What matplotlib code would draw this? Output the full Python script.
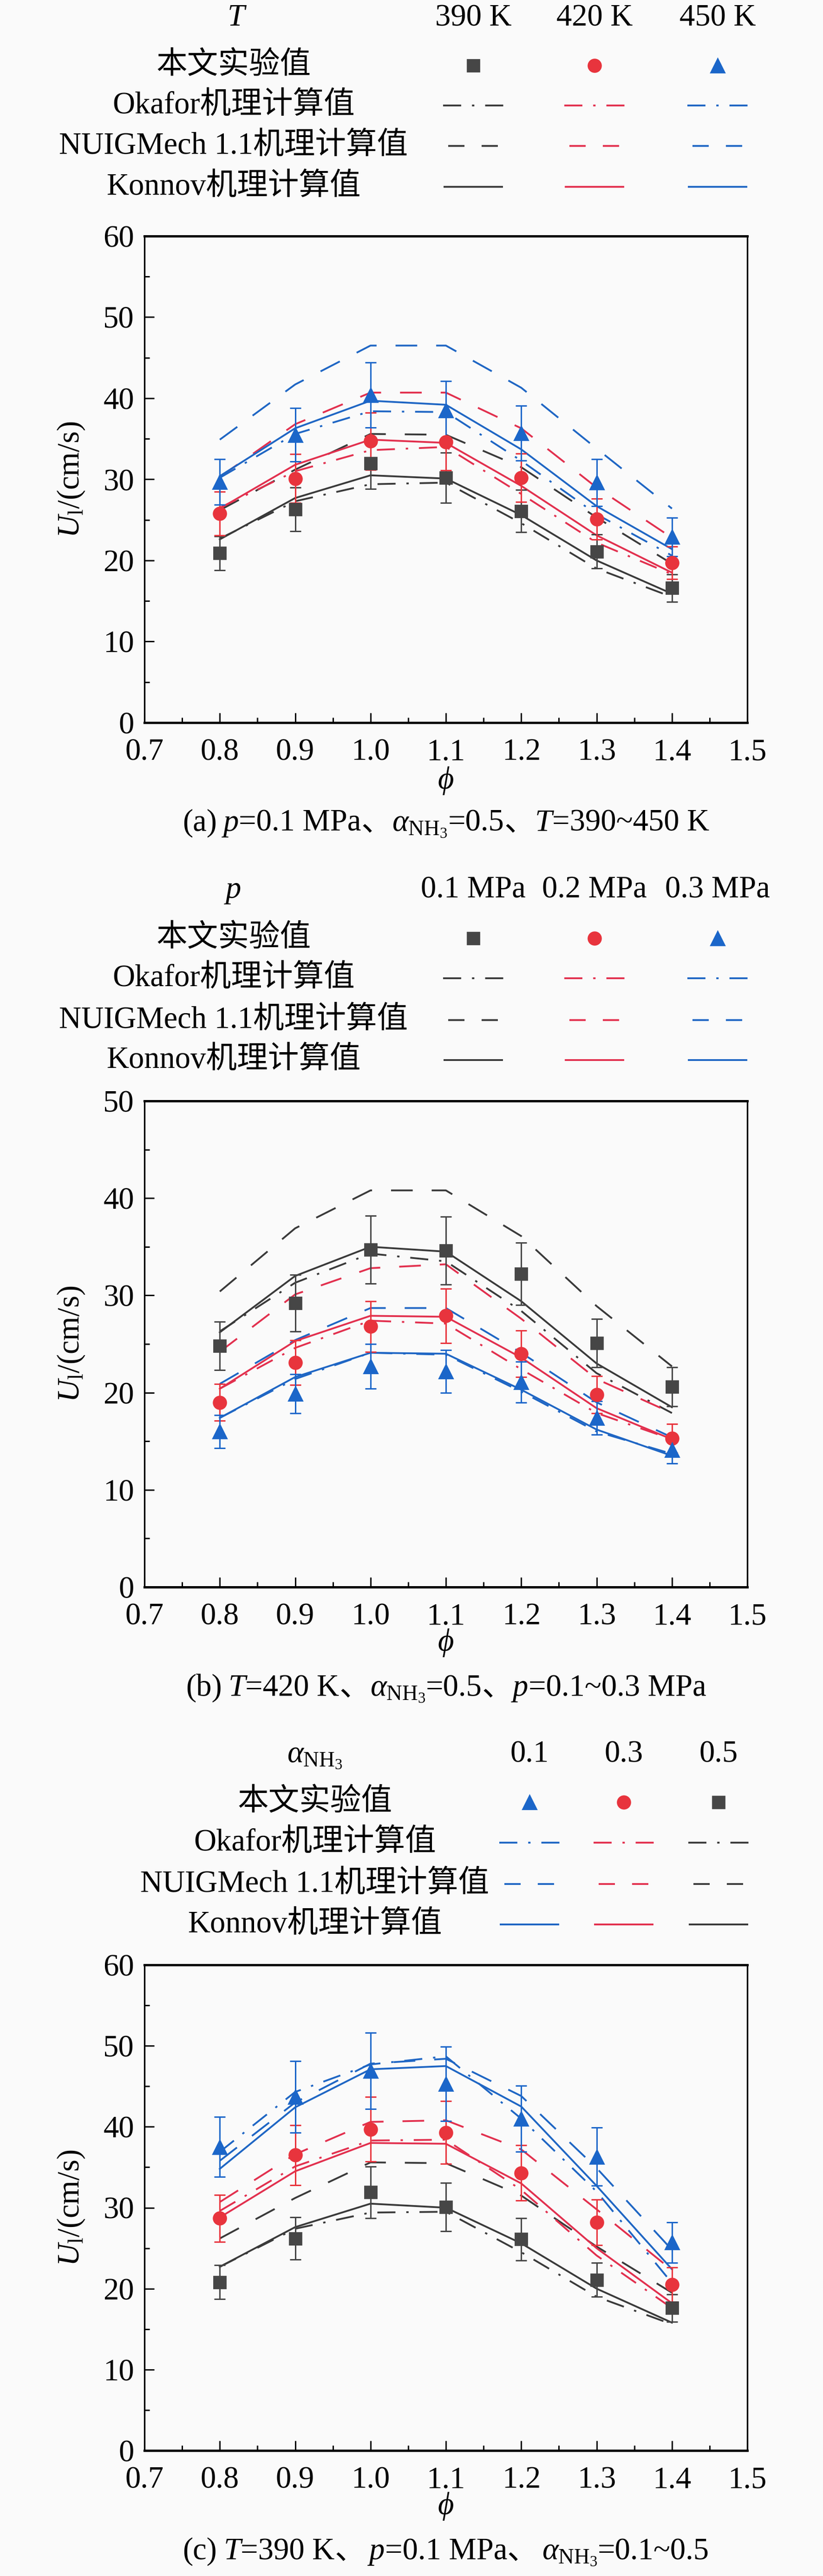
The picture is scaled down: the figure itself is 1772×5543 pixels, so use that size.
import matplotlib
matplotlib.use('Agg')
import matplotlib.pyplot as plt
from matplotlib.ticker import MultipleLocator, FormatStrFormatter

plt.rcParams['font.family'] = ['Liberation Serif', 'Noto Sans CJK SC', 'DejaVu Serif']
plt.rcParams['mathtext.fontset'] = 'custom'
plt.rcParams['mathtext.rm'] = 'Liberation Serif'
plt.rcParams['mathtext.it'] = 'Liberation Serif:italic'
plt.rcParams['mathtext.bf'] = 'Liberation Serif:bold'

# ---------------- data ----------------
phi = [0.8, 0.9, 1.0, 1.1, 1.2, 1.3, 1.4]

# (a) p=0.1 MPa, alpha=0.5, T = 390/420/450 K
a_labels = ['390 K', '420 K', '450 K']
a_exp_390 = [20.9, 26.3, 32.0, 30.2, 26.1, 21.1, 16.6]
a_err_390 = [2.1, 2.7, 3.2, 3.1, 2.6, 2.1, 1.7]
a_exp_420 = [25.8, 30.1, 34.7, 34.6, 30.2, 25.1, 19.7]
a_err_420 = [2.7, 3.0, 3.5, 3.5, 3.0, 2.5, 2.0]
a_exp_450 = [29.7, 35.5, 40.4, 38.5, 35.7, 29.6, 22.9]
a_err_450 = [2.8, 3.3, 4.0, 3.6, 3.4, 2.9, 2.4]
a_konnov_390 = [22.6, 27.7, 30.5, 30.1, 25.6, 20.0, 15.9]
a_konnov_420 = [26.4, 31.8, 34.9, 34.5, 29.2, 23.1, 18.5]
a_konnov_450 = [30.4, 36.3, 39.7, 39.2, 33.7, 26.7, 21.4]
a_nuig_390 = [26.2, 31.2, 35.6, 35.5, 31.5, 25.3, 19.6]
a_nuig_420 = [30.3, 36.8, 40.7, 40.7, 36.3, 29.0, 22.8]
a_nuig_450 = [34.9, 41.7, 46.5, 46.5, 41.3, 33.8, 26.4]
a_okafor_390 = [22.7, 27.3, 29.4, 29.6, 24.6, 19.0, 15.5]
a_okafor_420 = [26.5, 31.0, 33.6, 34.0, 28.2, 22.2, 18.3]
a_okafor_450 = [30.2, 35.6, 38.4, 38.3, 32.3, 25.7, 20.6]

# (b) T=420 K, alpha=0.5, p = 0.1/0.2/0.3 MPa
b_labels = ['0.1 MPa', '0.2 MPa', '0.3 MPa']
b_exp_01 = [24.8, 29.2, 34.7, 34.6, 32.2, 25.1, 20.6]
b_err_01 = [2.5, 2.9, 3.5, 3.5, 3.2, 2.5, 2.0]
b_exp_02 = [19.0, 23.1, 26.8, 27.9, 24.0, 19.8, 15.3]
b_err_02 = [1.9, 2.3, 2.6, 2.8, 2.4, 1.9, 1.5]
b_exp_03 = [16.0, 19.9, 22.7, 22.2, 21.1, 17.4, 14.1]
b_err_03 = [1.7, 2.0, 2.3, 2.2, 2.1, 1.7, 1.4]
b_konnov_01 = [26.2, 32.0, 35.0, 34.5, 29.4, 23.0, 18.5]
b_konnov_02 = [20.4, 25.3, 27.9, 27.8, 23.6, 18.4, 15.2]
b_konnov_03 = [17.4, 21.6, 24.1, 24.0, 20.3, 16.2, 13.5]
b_nuig_01 = [30.4, 36.9, 40.8, 40.8, 36.1, 28.9, 22.7]
b_nuig_02 = [24.2, 30.1, 32.8, 33.2, 27.6, 21.4, 17.9]
b_nuig_03 = [20.9, 25.4, 28.7, 28.7, 24.1, 19.0, 15.4]
b_okafor_01 = [26.3, 31.3, 34.3, 33.5, 28.4, 22.0, 17.9]
b_okafor_02 = [20.4, 24.6, 27.4, 27.1, 22.4, 17.9, 15.2]
b_okafor_03 = [17.4, 21.4, 24.1, 23.9, 20.1, 16.0, 13.7]

# (c) T=390 K, p=0.1 MPa, alpha = 0.1/0.3/0.5
c_labels = ['0.1', '0.3', '0.5']
c_exp_01 = [37.5, 43.7, 46.9, 45.3, 41.0, 36.3, 25.7]
c_err_01 = [3.7, 4.4, 4.7, 4.6, 4.1, 3.6, 2.5]
c_exp_03 = [28.7, 36.5, 39.7, 39.3, 34.3, 28.2, 20.5]
c_err_03 = [2.9, 3.7, 4.0, 3.9, 3.4, 2.8, 2.1]
c_exp_05 = [20.8, 26.2, 31.9, 30.1, 26.1, 21.1, 17.6]
c_err_05 = [2.1, 2.6, 3.2, 3.0, 2.6, 2.1, 1.7]
c_konnov_01 = [34.8, 42.4, 47.1, 47.5, 42.5, 32.7, 22.4]
c_konnov_03 = [28.8, 34.5, 38.0, 37.9, 33.0, 25.0, 18.2]
c_konnov_05 = [22.7, 27.6, 30.5, 30.0, 25.6, 20.0, 15.8]
c_nuig_01 = [35.8, 43.0, 47.8, 48.4, 43.8, 34.9, 24.8]
c_nuig_03 = [30.7, 36.6, 40.6, 40.8, 37.2, 29.8, 22.3]
c_nuig_05 = [26.2, 31.2, 35.6, 35.5, 31.5, 25.2, 19.5]
c_okafor_01 = [36.9, 44.3, 47.7, 48.7, 41.0, 32.0, 20.7]
c_okafor_03 = [29.6, 35.1, 38.3, 38.4, 32.2, 24.1, 17.6]
c_okafor_05 = [22.7, 27.4, 29.4, 29.5, 24.5, 19.0, 15.6]

row_labels = ['本文实验值', 'Okafor机理计算值', 'NUIGMech 1.1机理计算值', 'Konnov机理计算值']

# ---------------- style ----------------
W, H, DPI = 1772, 5543, 200
BG = '#fafafa'
FS = 24
LW = 1.4
GRAY_M, GRAY_L = '#464646', '#3a3a3a'
RED_M, RED_L = '#e8343d', '#e2304e'
BLUE_M, BLUE_L = '#1b66c9', '#1f66c4'
LS_NUIG = (0, (12, 10.5))
LS_NUIG_LEG = (0, (9, 9.5))
LS_OKA = (0, (10, 6, 1.3, 6))
MK = {'s': 9.4, 'o': 10.0, '^': 11.0}

fig = plt.figure(figsize=(W / DPI, H / DPI), dpi=DPI, facecolor=BG)

AX_L, AX_W = 311, 1298


def add_panel(top, bottom):
    ax = fig.add_axes([AX_L / W, 1 - bottom / H, AX_W / W, (bottom - top) / H])
    ax.set_facecolor(BG)
    return ax


def style_axes(ax, ymax):
    ax.set_xlim(0.7, 1.5)
    ax.set_ylim(0, ymax)
    ax.xaxis.set_major_locator(MultipleLocator(0.1))
    ax.xaxis.set_minor_locator(MultipleLocator(0.05))
    ax.yaxis.set_major_locator(MultipleLocator(10))
    ax.yaxis.set_minor_locator(MultipleLocator(5))
    ax.xaxis.set_major_formatter(FormatStrFormatter('%.1f'))
    ax.yaxis.set_major_formatter(FormatStrFormatter('%d'))
    ax.tick_params(which='both', direction='in', top=False, right=False, width=1.1)
    ax.tick_params(which='major', length=7.5, labelsize=FS)
    ax.tick_params(which='minor', length=4.0)
    ax.tick_params(axis='x', which='major', pad=12)
    ax.tick_params(axis='y', which='major', pad=8)
    for s in ['top', 'bottom']:
        ax.spines[s].set_linewidth(1.8)
    for s in ['left', 'right']:
        ax.spines[s].set_linewidth(1.2)


def draw_series(ax, exp, err, konnov, nuig, okafor, cm, cl, marker):
    ax.plot(phi, okafor, color=cl, lw=LW, ls=LS_OKA, zorder=2)
    ax.plot(phi, nuig, color=cl, lw=LW, ls=LS_NUIG, zorder=2)
    ax.plot(phi, konnov, color=cl, lw=LW, ls='-', zorder=3)
    ax.errorbar(phi, exp, yerr=err, fmt=marker, ms=MK[marker], color=cm, ecolor=cm,
                elinewidth=1.1, capsize=4.2, capthick=1.1, zorder=5)


# overlay axes in pixel coordinates for legends / labels
lax = fig.add_axes([0, 0, 1, 1], zorder=10)
lax.set_xlim(0, W)
lax.set_ylim(H, 0)
lax.axis('off')
lax.patch.set_alpha(0)

renderer = fig.canvas.get_renderer()


def rich(pieces, cx, base_y):
    objs = []
    total = 0
    for s, kw, gap in pieces:
        t = lax.text(0, base_y, s, fontsize=FS, ha='left', va='baseline', **kw)
        w = t.get_window_extent(renderer).width
        objs.append((t, w, gap))
        total += w + gap
    x = cx - total / 2
    for t, w, gap in objs:
        t.set_x(x)
        x += w + gap


IT = {'fontstyle': 'italic'}
ALPHA = r'$\alpha_{\mathrm{NH}_3}$'


def legend_block(header, header_x, header_base, col_labels, col_x, label_x, rows_y, series):
    lax.text(header_x, header_base, header[0], fontsize=FS, ha='center', va='baseline', **header[1])
    for lab, x in zip(col_labels, col_x):
        lax.text(x, header_base, lab, fontsize=FS, ha='center', va='baseline')
    for lab, y in zip(row_labels, rows_y):
        lax.text(label_x, y, lab, fontsize=FS, ha='center', va='center')
    for (cm, cl, mk), x in zip(series, col_x):
        lax.plot([x], [rows_y[0]], marker=mk, ms=MK[mk], color=cm, ls='none')
        lax.plot([x - 65, x + 65], [rows_y[1]] * 2, color=cl, lw=LW, ls=LS_OKA)
        lax.plot([x - 54, x + 54], [rows_y[2]] * 2, color=cl, lw=LW, ls=LS_NUIG_LEG)
        lax.plot([x - 62, x + 62], [rows_y[3]] * 2, color=cl, lw=LW, ls='-')


YLAB = r'$U_\mathrm{l}$/(cm/s)'


def axis_labels(top, bottom, phi_y):
    lax.text(153, (top + bottom) / 2, YLAB, fontsize=FS, rotation=90,
             ha='center', va='center')
    lax.text(AX_L + AX_W / 2, phi_y, 'ϕ', fontsize=FS, fontstyle='italic',
             family=['Liberation Serif', 'DejaVu Serif'], ha='center', va='center')


# ---------------- panel (a) ----------------
ax_a = add_panel(508, 1555)
style_axes(ax_a, 60)
draw_series(ax_a, a_exp_390, a_err_390, a_konnov_390, a_nuig_390, a_okafor_390, GRAY_M, GRAY_L, 's')
draw_series(ax_a, a_exp_420, a_err_420, a_konnov_420, a_nuig_420, a_okafor_420, RED_M, RED_L, 'o')
draw_series(ax_a, a_exp_450, a_err_450, a_konnov_450, a_nuig_450, a_okafor_450, BLUE_M, BLUE_L, '^')
legend_block(('T', IT), 508, 55, a_labels, [1019, 1280, 1545], 503, [141, 227, 314, 402],
             [(GRAY_M, GRAY_L, 's'), (RED_M, RED_L, 'o'), (BLUE_M, BLUE_L, '^')])
axis_labels(508, 1555, 1680)
rich([('(a)', {}, 14), ('p', IT, 0), ('=0.1 MPa', {}, 0), ('、', {}, 0), (ALPHA, {}, 0),
      ('=0.5', {}, 0), ('、', {}, 0), ('T', IT, 0), ('=390~450 K', {}, 0)], AX_L + AX_W / 2, 1788)

# ---------------- panel (b) ----------------
ax_b = add_panel(2369, 3415)
style_axes(ax_b, 50)
draw_series(ax_b, b_exp_01, b_err_01, b_konnov_01, b_nuig_01, b_okafor_01, GRAY_M, GRAY_L, 's')
draw_series(ax_b, b_exp_02, b_err_02, b_konnov_02, b_nuig_02, b_okafor_02, RED_M, RED_L, 'o')
draw_series(ax_b, b_exp_03, b_err_03, b_konnov_03, b_nuig_03, b_okafor_03, BLUE_M, BLUE_L, '^')
legend_block(('p', IT), 503, 1932, b_labels, [1019, 1280, 1545], 503, [2019, 2105, 2195, 2281],
             [(GRAY_M, GRAY_L, 's'), (RED_M, RED_L, 'o'), (BLUE_M, BLUE_L, '^')])
axis_labels(2369, 3415, 3535)
rich([('(b)', {}, 14), ('T', IT, 0), ('=420 K', {}, 0), ('、', {}, 0), (ALPHA, {}, 0),
      ('=0.5', {}, 0), ('、', {}, 0), ('p', IT, 0), ('=0.1~0.3 MPa', {}, 0)], AX_L + AX_W / 2, 3649)

# ---------------- panel (c) ----------------
ax_c = add_panel(4228, 5273)
style_axes(ax_c, 60)
draw_series(ax_c, c_exp_05, c_err_05, c_konnov_05, c_nuig_05, c_okafor_05, GRAY_M, GRAY_L, 's')
draw_series(ax_c, c_exp_03, c_err_03, c_konnov_03, c_nuig_03, c_okafor_03, RED_M, RED_L, 'o')
draw_series(ax_c, c_exp_01, c_err_01, c_konnov_01, c_nuig_01, c_okafor_01, BLUE_M, BLUE_L, '^')
legend_block((ALPHA, {}), 678, 3792, c_labels, [1140, 1343, 1547], 678, [3878, 3965, 4054, 4141],
             [(BLUE_M, BLUE_L, '^'), (RED_M, RED_L, 'o'), (GRAY_M, GRAY_L, 's')])
axis_labels(4228, 5273, 5393)
rich([('(c)', {}, 14), ('T', IT, 0), ('=390 K', {}, 0), ('、', {}, 8), ('p', IT, 0),
      ('=0.1 MPa', {}, 0), ('、', {}, 8), (ALPHA, {}, 0), ('=0.1~0.5', {}, 0)], AX_L + AX_W / 2, 5507)

fig.savefig('out.png', dpi=DPI, facecolor=BG)
